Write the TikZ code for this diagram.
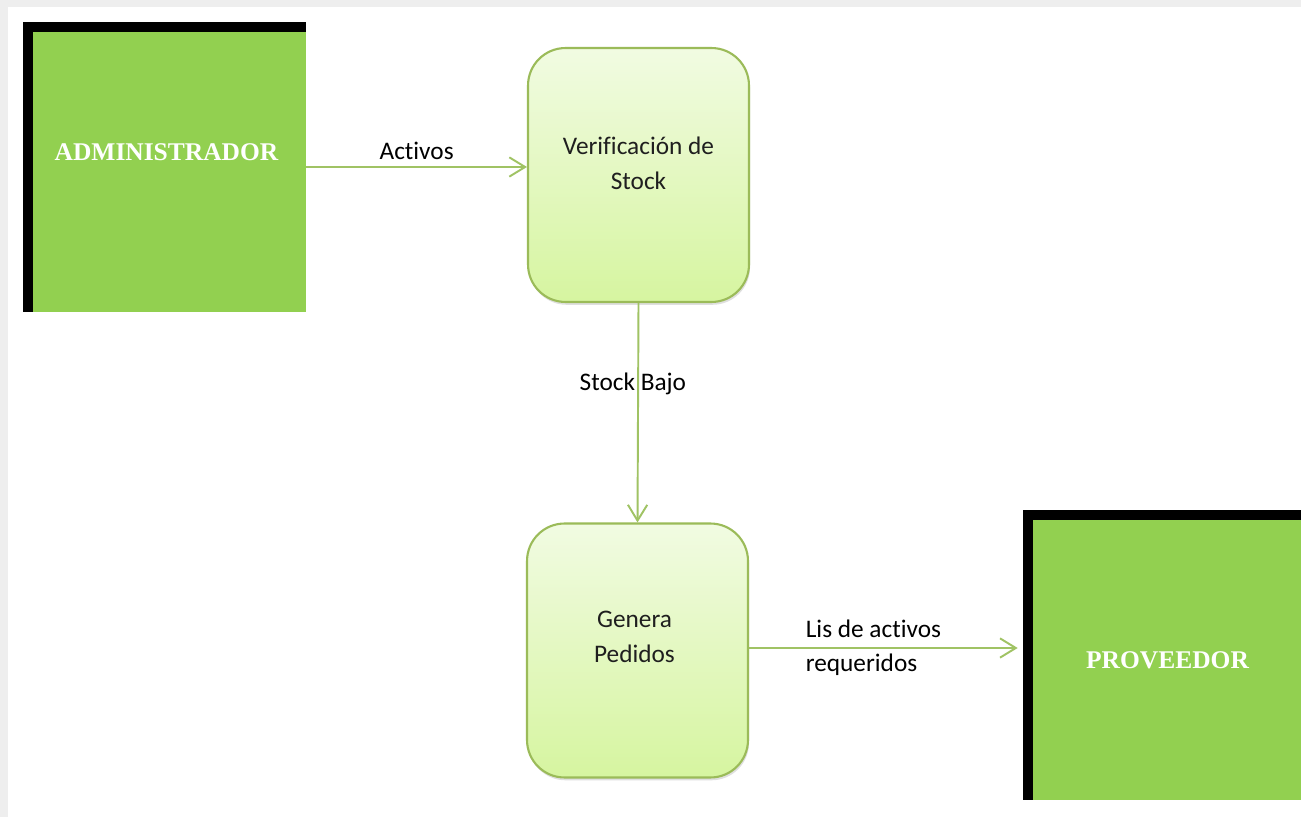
\documentclass[tikz,border=0pt]{standalone}
\usepackage{fontspec}
\setmainfont{Carlito}[Ligatures=NoCommon]
\newfontfamily\entfont{Liberation Serif}
\usetikzlibrary{arrows.meta,positioning,calc,shadows,backgrounds}
\definecolor{entgreen}{RGB}{146,208,80}
\definecolor{procline}{RGB}{155,187,89}
\definecolor{proctop}{RGB}{241,251,226}
\definecolor{procbot}{RGB}{214,245,160}
\definecolor{flowgreen}{RGB}{160,195,100}
\definecolor{pagegray}{RGB}{238,238,238}
\tikzset{
  % entidad externa (bloque verde)
  entity/.style={
    fill=entgreen,
    minimum width=5.46cm,
    minimum height=5.6cm,
    inner sep=0pt
  },
  enttext/.style={font=\entfont\bfseries\fontsize{14.5}{17}\selectfont, text=white},
  % proceso (caja redondeada)
  proc/.style={
    draw=procline,
    line width=1.2pt,
    rounded corners=0.75cm,
    top color=proctop,
    bottom color=procbot,
    minimum width=4.42cm,
    minimum height=5.08cm,
    drop shadow={opacity=0.25, shadow xshift=0.6pt, shadow yshift=-1.6pt}
  },
  proctext/.style={align=center, font=\fontsize{14.4}{19.9}\selectfont, text=black!88},
  % flujo de datos
  flow/.style={-{Straight Barb[length=9pt, width=11pt]}, line width=1.1pt, flowgreen},
  flowlab/.style={font=\fontsize{14.4}{19.3}\selectfont, text=black},
}

\begin{document}
\begin{tikzpicture}[x=0.02cm, y=-0.02cm]
  \clip (0,0) rectangle (1301,817);

  % Entidades
  \node[entity] (admin) at (169.5,172) {};
  \node[enttext] (admintxt) at ($(admin.center)+(-3,-20)$) {ADMINISTRADOR};
  \node[entity] (prov) at (1169.5,660) {};
  \node[enttext] (provtxt) at ($(prov.center)+(-2,0)$) {PROVEEDOR};
  \begin{scope}[on background layer]
    % fondo de pagina
    \fill[white] (0,0) rectangle (1301,817);
    \fill[pagegray] (0,0) rectangle (1301,7);
    \fill[pagegray] (0,0) rectangle (8,817);
    % borde negro de las entidades
    \fill[black] ($(admin.north west)+(-10,-10)$) rectangle (admin.south east);
    \fill[black] ($(prov.north west)+(-10,-10)$) rectangle (prov.south east);
  \end{scope}

  % Procesos
  \node[proc] (verif) at (638.5,175) {};
  \node[proctext] (veriftxt) at ($(verif.center)+(0,-12)$) {Verificación de\\Stock};
  \node[proc] (pedido) at (637.5,650.5) {};
  \node[proctext] (pedidotxt) at ($(pedido.center)+(-3,-14)$) {Genera\\Pedidos};

  % Flujos
  \draw[flow] ($(admin.east)+(0,-5)$) -- ($(verif.west)+(0,-8)$)
    node[flowlab, midway, above] {Activos};
  \draw[flow] (verif.south) -- (pedido.north)
    node[flowlab, pos=0.37, xshift=-3] {Stock Bajo};
  \draw[flow] ($(pedido.east)+(0,-2.5)$) -- ($(prov.west)+(-15,-12)$)
    node[flowlab, pos=0.463, align=left] {Lis de activos\\requeridos};
\end{tikzpicture}
\end{document}
